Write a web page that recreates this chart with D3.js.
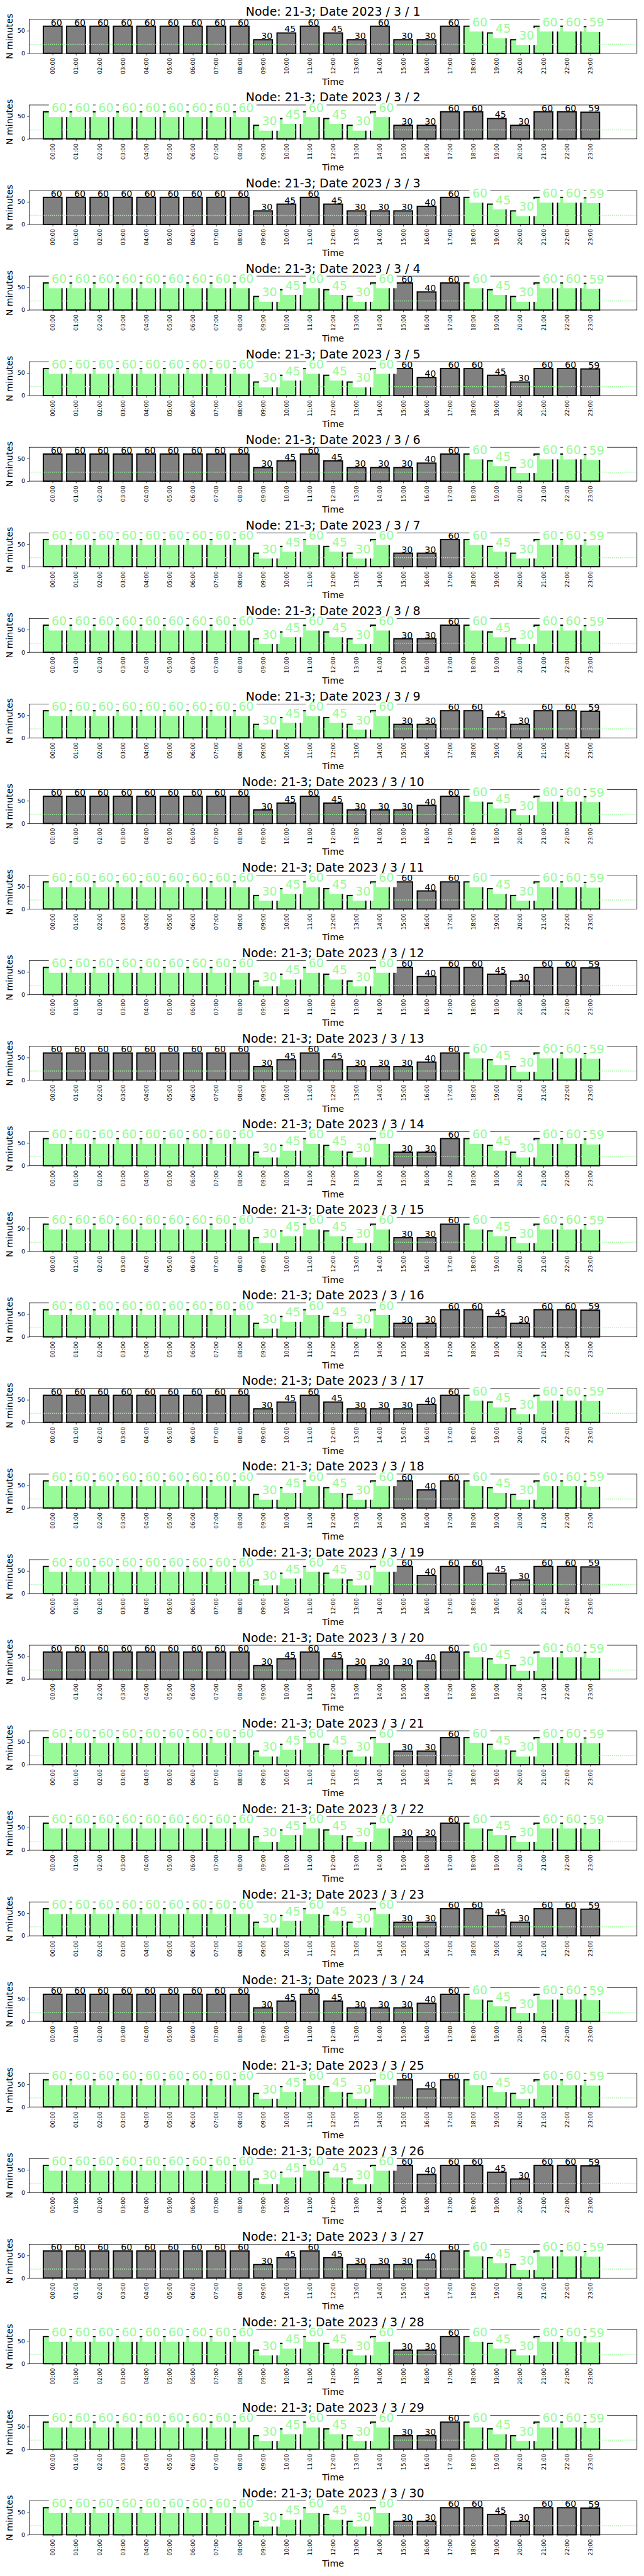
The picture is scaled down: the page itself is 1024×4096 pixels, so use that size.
<!DOCTYPE html>
<html>
<head>
<meta charset="utf-8">
<script src="https://cdn.jsdelivr.net/npm/d3@7"></script>
<style>
  html, body { margin: 0; padding: 0; background: #ffffff; }
  svg { display: block; font-family: "DejaVu Sans", sans-serif; }
</style>
</head>
<body>
<svg id="chart" width="1024" height="4096"></svg>
<script>
// ---------------- data ----------------
const node = "21-3";
const year = 2023;
const month = 3;
const days = d3.range(1, 31);
const hours = ["00:00","01:00","02:00","03:00","04:00","05:00","06:00","07:00","08:00","09:00","10:00","11:00",
               "12:00","13:00","14:00","15:00","16:00","17:00","18:00","19:00","20:00","21:00","22:00","23:00"];
const yTicks = [0, 50];
const threshold = 20;

// minutes per hour, one row per day (3/1 .. 3/30)
const minutes = [
  [60,60,60,60,60,60,60,60,60,30,45,60,45,30,60,30,30,60,60,45,30,60,60,59], // 1
  [60,60,60,60,60,60,60,60,60,30,45,60,45,30,60,30,30,60,60,45,30,60,60,59], // 2
  [60,60,60,60,60,60,60,60,60,30,45,60,45,30,30,30,40,60,60,45,30,60,60,59], // 3
  [60,60,60,60,60,60,60,60,60,30,45,60,45,30,60,60,40,60,60,45,30,60,60,59], // 4
  [60,60,60,60,60,60,60,60,60,30,45,60,45,30,60,60,40,60,60,45,30,60,60,59], // 5
  [60,60,60,60,60,60,60,60,60,30,45,60,45,30,30,30,40,60,60,45,30,60,60,59], // 6
  [60,60,60,60,60,60,60,60,60,30,45,60,45,30,60,30,30,60,60,45,30,60,60,59], // 7
  [60,60,60,60,60,60,60,60,60,30,45,60,45,30,60,30,30,60,60,45,30,60,60,59], // 8
  [60,60,60,60,60,60,60,60,60,30,45,60,45,30,60,30,30,60,60,45,30,60,60,59], // 9
  [60,60,60,60,60,60,60,60,60,30,45,60,45,30,30,30,40,60,60,45,30,60,60,59], // 10
  [60,60,60,60,60,60,60,60,60,30,45,60,45,30,60,60,40,60,60,45,30,60,60,59], // 11
  [60,60,60,60,60,60,60,60,60,30,45,60,45,30,60,60,40,60,60,45,30,60,60,59], // 12
  [60,60,60,60,60,60,60,60,60,30,45,60,45,30,30,30,40,60,60,45,30,60,60,59], // 13
  [60,60,60,60,60,60,60,60,60,30,45,60,45,30,60,30,30,60,60,45,30,60,60,59], // 14
  [60,60,60,60,60,60,60,60,60,30,45,60,45,30,60,30,30,60,60,45,30,60,60,59], // 15
  [60,60,60,60,60,60,60,60,60,30,45,60,45,30,60,30,30,60,60,45,30,60,60,59], // 16
  [60,60,60,60,60,60,60,60,60,30,45,60,45,30,30,30,40,60,60,45,30,60,60,59], // 17
  [60,60,60,60,60,60,60,60,60,30,45,60,45,30,60,60,40,60,60,45,30,60,60,59], // 18
  [60,60,60,60,60,60,60,60,60,30,45,60,45,30,60,60,40,60,60,45,30,60,60,59], // 19
  [60,60,60,60,60,60,60,60,60,30,45,60,45,30,30,30,40,60,60,45,30,60,60,59], // 20
  [60,60,60,60,60,60,60,60,60,30,45,60,45,30,60,30,30,60,60,45,30,60,60,59], // 21
  [60,60,60,60,60,60,60,60,60,30,45,60,45,30,60,30,30,60,60,45,30,60,60,59], // 22
  [60,60,60,60,60,60,60,60,60,30,45,60,45,30,60,30,30,60,60,45,30,60,60,59], // 23
  [60,60,60,60,60,60,60,60,60,30,45,60,45,30,30,30,40,60,60,45,30,60,60,59], // 24
  [60,60,60,60,60,60,60,60,60,30,45,60,45,30,60,60,40,60,60,45,30,60,60,59], // 25
  [60,60,60,60,60,60,60,60,60,30,45,60,45,30,60,60,40,60,60,45,30,60,60,59], // 26
  [60,60,60,60,60,60,60,60,60,30,45,60,45,30,30,30,40,60,60,45,30,60,60,59], // 27
  [60,60,60,60,60,60,60,60,60,30,45,60,45,30,60,30,30,60,60,45,30,60,60,59], // 28
  [60,60,60,60,60,60,60,60,60,30,45,60,45,30,60,30,30,60,60,45,30,60,60,59], // 29
  [60,60,60,60,60,60,60,60,60,30,45,60,45,30,60,30,30,60,60,45,30,60,60,59]  // 30
];

// 1 = highlighted (green) hour, 0 = normal (grey) hour
const highlighted = [
  [0,0,0,0,0,0,0,0,0,0,0,0,0,0,0,0,0,0,1,1,1,1,1,1], // 1
  [1,1,1,1,1,1,1,1,1,1,1,1,1,1,1,0,0,0,0,0,0,0,0,0], // 2
  [0,0,0,0,0,0,0,0,0,0,0,0,0,0,0,0,0,0,1,1,1,1,1,1], // 3
  [1,1,1,1,1,1,1,1,1,1,1,1,1,1,1,0,0,0,1,1,1,1,1,1], // 4
  [1,1,1,1,1,1,1,1,1,1,1,1,1,1,1,0,0,0,0,0,0,0,0,0], // 5
  [0,0,0,0,0,0,0,0,0,0,0,0,0,0,0,0,0,0,1,1,1,1,1,1], // 6
  [1,1,1,1,1,1,1,1,1,1,1,1,1,1,1,0,0,0,1,1,1,1,1,1], // 7
  [1,1,1,1,1,1,1,1,1,1,1,1,1,1,1,0,0,0,1,1,1,1,1,1], // 8
  [1,1,1,1,1,1,1,1,1,1,1,1,1,1,1,0,0,0,0,0,0,0,0,0], // 9
  [0,0,0,0,0,0,0,0,0,0,0,0,0,0,0,0,0,0,1,1,1,1,1,1], // 10
  [1,1,1,1,1,1,1,1,1,1,1,1,1,1,1,0,0,0,1,1,1,1,1,1], // 11
  [1,1,1,1,1,1,1,1,1,1,1,1,1,1,1,0,0,0,0,0,0,0,0,0], // 12
  [0,0,0,0,0,0,0,0,0,0,0,0,0,0,0,0,0,0,1,1,1,1,1,1], // 13
  [1,1,1,1,1,1,1,1,1,1,1,1,1,1,1,0,0,0,1,1,1,1,1,1], // 14
  [1,1,1,1,1,1,1,1,1,1,1,1,1,1,1,0,0,0,1,1,1,1,1,1], // 15
  [1,1,1,1,1,1,1,1,1,1,1,1,1,1,1,0,0,0,0,0,0,0,0,0], // 16
  [0,0,0,0,0,0,0,0,0,0,0,0,0,0,0,0,0,0,1,1,1,1,1,1], // 17
  [1,1,1,1,1,1,1,1,1,1,1,1,1,1,1,0,0,0,1,1,1,1,1,1], // 18
  [1,1,1,1,1,1,1,1,1,1,1,1,1,1,1,0,0,0,0,0,0,0,0,0], // 19
  [0,0,0,0,0,0,0,0,0,0,0,0,0,0,0,0,0,0,1,1,1,1,1,1], // 20
  [1,1,1,1,1,1,1,1,1,1,1,1,1,1,1,0,0,0,1,1,1,1,1,1], // 21
  [1,1,1,1,1,1,1,1,1,1,1,1,1,1,1,0,0,0,1,1,1,1,1,1], // 22
  [1,1,1,1,1,1,1,1,1,1,1,1,1,1,1,0,0,0,0,0,0,0,0,0], // 23
  [0,0,0,0,0,0,0,0,0,0,0,0,0,0,0,0,0,0,1,1,1,1,1,1], // 24
  [1,1,1,1,1,1,1,1,1,1,1,1,1,1,1,0,0,0,1,1,1,1,1,1], // 25
  [1,1,1,1,1,1,1,1,1,1,1,1,1,1,1,0,0,0,0,0,0,0,0,0], // 26
  [0,0,0,0,0,0,0,0,0,0,0,0,0,0,0,0,0,0,1,1,1,1,1,1], // 27
  [1,1,1,1,1,1,1,1,1,1,1,1,1,1,1,0,0,0,1,1,1,1,1,1], // 28
  [1,1,1,1,1,1,1,1,1,1,1,1,1,1,1,0,0,0,1,1,1,1,1,1], // 29
  [1,1,1,1,1,1,1,1,1,1,1,1,1,1,1,0,0,0,0,0,0,0,0,0]  // 30
];

// ---------------- layout (reference pixels, scaled by S) ----------------
const S = 0.682;
const AX_L = 68.3, AX_R = 1485, AX_TOP0 = 45.3, AX_H = 79, STEP = 199.5;
const GREY = "#808080", GREEN = "#98fb98";

const svg = d3.select("#chart");
svg.append("rect").attr("width", 1024).attr("height", 4096).attr("fill", "#ffffff");
const root = svg.append("g").attr("transform", `scale(${S})`);

days.forEach((day, k) => {
  const vals = minutes[k];
  const hl = highlighted[k];
  const top = AX_TOP0 + STEP * k;
  const bottom = top + AX_H;
  const x = d3.scaleLinear().domain([-1, 25]).range([AX_L, AX_R]);
  const y = d3.scaleLinear().domain([0, 75]).range([bottom, top]);
  const g = root.append("g");
  const bw = x(0.8) - x(0);

  // bars
  g.selectAll("rect.bar").data(vals).enter().append("rect")
    .attr("class", "bar")
    .attr("x", (v, i) => x(i - 0.4))
    .attr("y", v => y(v))
    .attr("width", bw)
    .attr("height", v => y(0) - y(v))
    .attr("fill", (v, i) => hl[i] ? GREEN : GREY)
    .attr("stroke", "#000")
    .attr("stroke-width", 2.8);

  // threshold dotted line
  g.append("line")
    .attr("x1", AX_L).attr("x2", AX_R)
    .attr("y1", y(threshold)).attr("y2", y(threshold))
    .attr("stroke", GREEN).attr("stroke-width", 2.2)
    .attr("stroke-dasharray", "2.2,2.6");

  // axes
  const xa = g.append("g").attr("transform", `translate(0,${bottom})`)
    .call(d3.axisBottom(x).tickValues(d3.range(24)).tickFormat(i => hours[i])
      .tickSizeInner(4.9).tickSizeOuter(0).tickPadding(4.9));
  xa.select(".domain").remove();
  xa.selectAll(".tick line").attr("stroke", "#000").attr("stroke-width", 1.1);
  xa.selectAll(".tick text")
    .attr("transform", "rotate(-90)")
    .attr("x", -10.5).attr("y", 0).attr("dy", "0.35em")
    .attr("text-anchor", "end")
    .attr("fill", "#000")
    .style("font-size", "13.2px")
    .style("font-family", "DejaVu Sans");

  const ya = g.append("g").attr("transform", `translate(${AX_L},0)`)
    .call(d3.axisLeft(y).tickValues(yTicks).tickSizeInner(4.9).tickSizeOuter(0).tickPadding(4.9));
  ya.select(".domain").remove();
  ya.selectAll(".tick line").attr("stroke", "#000").attr("stroke-width", 1.1);
  ya.selectAll(".tick text").attr("fill", "#000")
    .style("font-size", "13.9px").style("font-family", "DejaVu Sans");

  // spines
  g.append("rect")
    .attr("x", AX_L).attr("y", top)
    .attr("width", AX_R - AX_L).attr("height", AX_H)
    .attr("fill", "none").attr("stroke", "#000").attr("stroke-width", 1.1);

  // value labels
  vals.forEach((v, i) => {
    if (hl[i]) {
      const ax = x(i) - 2.5, by = y(v);
      const box = g.append("rect").attr("fill", "#fff");
      const t = g.append("text")
        .attr("x", ax).attr("y", by)
        .attr("fill", GREEN)
        .style("font-size", "27.8px")
        .text(v);
      const w = t.node().getComputedTextLength();
      box.attr("x", ax - 6.4).attr("y", by - 27.5)
        .attr("width", w + 12.8).attr("height", 27.5 + 12.4);
    } else {
      g.append("text")
        .attr("x", x(i) - 4.4).attr("y", y(v) - 1.5)
        .attr("fill", "#000")
        .style("font-size", "20.8px")
        .text(v);
    }
  });

  // title and axis labels
  g.append("text")
    .attr("x", (AX_L + AX_R) / 2).attr("y", top - 8)
    .attr("text-anchor", "middle")
    .style("font-size", "27.8px")
    .text(`Node: ${node}; Date ${year} / ${month} / ${day}`);

  g.append("text")
    .attr("x", (AX_L + AX_R) / 2).attr("y", bottom + 73.4)
    .attr("text-anchor", "middle")
    .style("font-size", "20.8px")
    .text("Time");

  g.append("text")
    .attr("transform", `translate(30,${(top + bottom) / 2}) rotate(-90)`)
    .attr("text-anchor", "middle")
    .style("font-size", "20.8px")
    .text("N minutes");
});
</script>
</body>
</html>
